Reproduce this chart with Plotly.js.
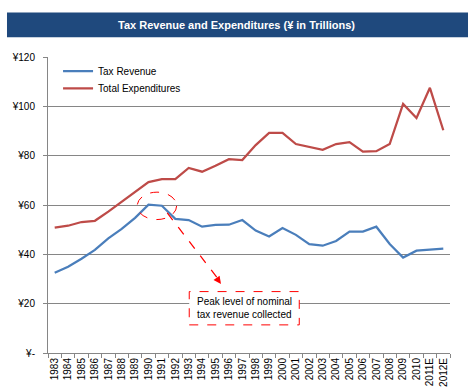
<!DOCTYPE html>
<html>
<head>
<meta charset="utf-8">
<script src="https://cdn.plot.ly/plotly-3.0.1.min.js"></script>
<style>html,body{margin:0;padding:0;background:#fff}#chart{width:473px;height:392px}</style>
</head>
<body>
<div id="chart"></div>
<script>
var years = ["1983","1984","1985","1986","1987","1988","1989","1990","1991","1992","1993","1994","1995","1996","1997","1998","1999","2000","2001","2002","2003","2004","2005","2006","2007","2008","2009","2010","2011E","2012E"];
var taxRevenue = [32.5,35.0,38.2,41.8,46.5,50.3,54.8,60.1,59.7,54.4,53.9,51.2,51.9,52.0,53.9,49.6,47.2,50.7,47.9,44.1,43.5,45.4,49.2,49.2,51.2,44.2,38.7,41.5,41.9,42.3];
var totalExpenditures = [50.8,51.6,53.1,53.6,57.3,61.3,65.4,69.3,70.5,70.5,75.0,73.5,75.9,78.6,78.2,84.3,89.2,89.2,84.7,83.6,82.4,84.7,85.5,81.6,81.8,84.7,101.0,95.3,107.5,90.3];
var yTickVals = [0,20,40,60,80,100,120];
var yTickText = ["¥-","¥20","¥40","¥60","¥80","¥100","¥120"];
var titleText = "Tax Revenue and Expenditures (¥ in Trillions)";
var noteText = "Peak level of nominal<br>tax revenue collected";

var font = "Liberation Sans, Arial, sans-serif";
var traces = [
  {x: years, y: taxRevenue, type: "scatter", mode: "lines", name: "Tax Revenue", legend: "legend",
   line: {color: "#4A7EBB", width: 2.25}},
  {x: years, y: totalExpenditures, type: "scatter", mode: "lines", name: "Total Expenditures", legend: "legend2",
   line: {color: "#BE4B48", width: 2.25}}
];
var legendBase = {xanchor: "left", yanchor: "middle", bgcolor: "rgba(0,0,0,0)",
  font: {family: font, size: 10, color: "#000"}, itemwidth: 30};
var layout = {
  width: 473, height: 392,
  margin: {l: 48, r: 23, t: 57, b: 39},
  paper_bgcolor: "#fff", plot_bgcolor: "#fff",
  font: {family: font, size: 10, color: "#000"},
  title: {text: "<b>" + titleText + "</b>", font: {family: font, size: 11, color: "#fff"},
          x: 0.5, xref: "container", xanchor: "center", y: 1 - 25/392, yref: "container", yanchor: "middle"},
  showlegend: true,
  legend: Object.assign({x: 0.025, y: 0.952}, legendBase),
  legend2: Object.assign({x: 0.025, y: 0.894}, legendBase),
  xaxis: {type: "category", range: [-0.5, 29.5], tickangle: -90, tickson: "boundaries",
          ticks: "outside", ticklen: 4, tickcolor: "#868686", showline: true, linecolor: "#868686",
          showgrid: false, zeroline: false, tickfont: {family: font, size: 10}, fixedrange: true},
  yaxis: {range: [0, 120], tickvals: yTickVals, ticktext: yTickText, ticks: "outside", ticklen: 4,
          tickcolor: "#868686", showline: true, linecolor: "#868686", gridcolor: "#868686", gridwidth: 1,
          zeroline: false, tickfont: {family: font, size: 10}, ticklabelstandoff: 6, fixedrange: true},
  shapes: [
    {type: "rect", xref: "paper", yref: "paper", x0: -0.102, x1: 1.0448, y0: 1.0664, y1: 1.1507,
     fillcolor: "#1F497D", line: {width: 0}, layer: "above"},
    {type: "circle", xref: "x", yref: "y", x0: 6.16, x1: 9.1, y0: 54.1, y1: 65.2,
     line: {color: "#FF0000", width: 1, dash: "dash"}, layer: "above"},
    {type: "line", xref: "x", yref: "y", x0: 8.4, y0: 56.8, x1: 12.2, y1: 30.0,
     line: {color: "#FF0000", width: 1.25, dash: "dash"}, layer: "above"},
    {type: "rect", xref: "x", yref: "y", x0: 10.04, x1: 18.25, y0: 11.4, y1: 24.9,
     fillcolor: "#fff", line: {color: "#FF0000", width: 1, dash: "dash"}, layer: "above"}
  ],
  annotations: [
    {x: 12.41, y: 28.0, xref: "x", yref: "y", ax: 12.1, ay: 30.3, axref: "x", ayref: "y",
     showarrow: true, arrowhead: 2, arrowsize: 1.2, arrowwidth: 1.25, arrowcolor: "#FF0000", text: ""},
    {x: 10.5, y: 18.2, xref: "x", yref: "y", text: noteText, showarrow: false, align: "left",
     xanchor: "left", yanchor: "middle", font: {family: font, size: 10, color: "#000"}}
  ]
};
Plotly.newPlot("chart", traces, layout, {displayModeBar: false, staticPlot: true});
</script>
</body>
</html>
